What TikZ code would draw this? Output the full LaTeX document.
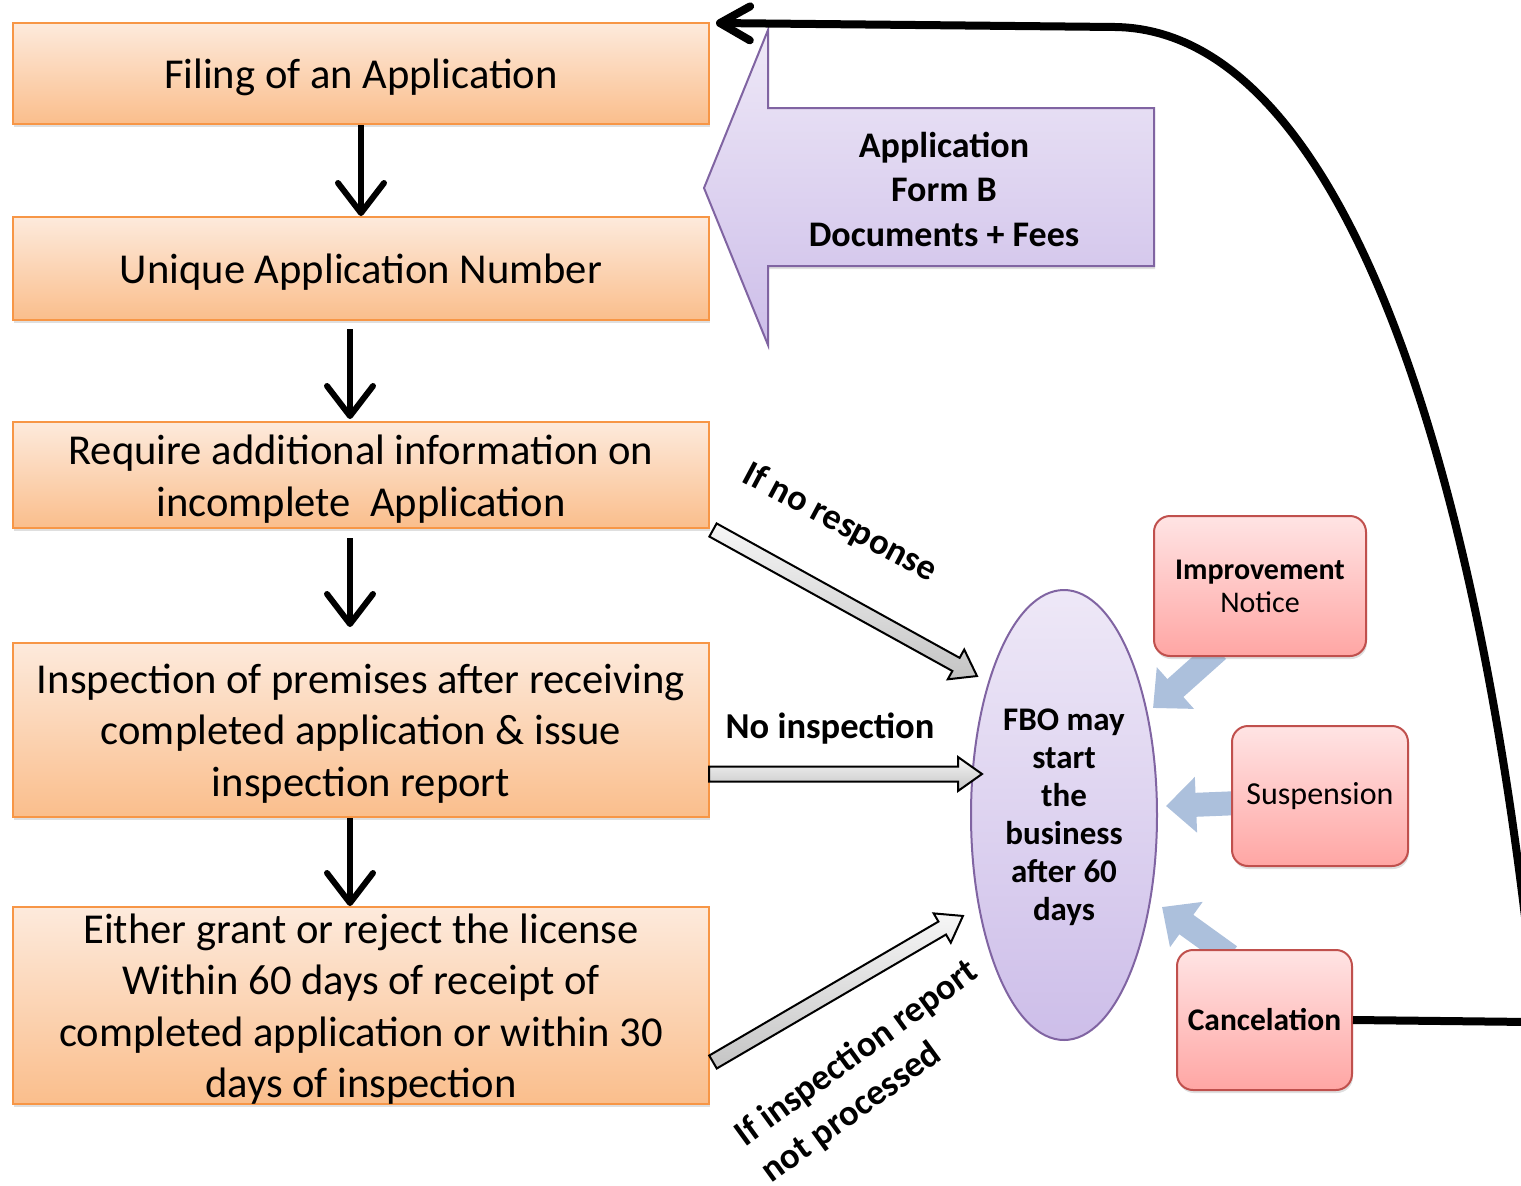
\documentclass[tikz,border=0pt]{standalone}
\usepackage{fontspec}
\setmainfont{Carlito}
\usetikzlibrary{arrows.meta,shapes.geometric,shadows}
\definecolor{orTop}{RGB}{253,234,220}
\definecolor{orBot}{RGB}{250,190,140}
\definecolor{orLine}{RGB}{247,150,70}
\definecolor{puTop}{RGB}{238,232,247}
\definecolor{puBot}{RGB}{205,190,233}
\definecolor{puLine}{RGB}{128,100,162}
\definecolor{rdTop}{RGB}{255,228,228}
\definecolor{rdBot}{RGB}{255,166,164}
\definecolor{rdLine}{RGB}{192,80,77}
\definecolor{blArrow}{RGB}{172,192,220}
\definecolor{grTop}{RGB}{246,246,246}
\definecolor{grBot}{RGB}{196,196,196}
\begin{document}
\begin{tikzpicture}[x=1pt,y=-1pt,
  softshadow/.style={drop shadow={shadow xshift=1pt,shadow yshift=-3pt,opacity=0.25}},
  obox/.style={draw=orLine,line width=2pt,top color=orTop,bottom color=orBot,
    minimum width=696pt,inner sep=0pt,softshadow},
  otext/.style={align=center,inner sep=0pt,font=\fontsize{42.6}{51.3}\selectfont},
  rbox/.style={draw=rdLine,line width=2pt,top color=rdTop,bottom color=rdBot,
    rounded corners=16pt,minimum height=140pt,inner sep=0pt,align=center,
    font=\fontsize{30}{33}\selectfont,softshadow},
  pufill/.style={draw=puLine,line width=2pt,top color=puTop,bottom color=puBot},
  downarr/.style={line width=6pt,-{Straight Barb[length=30pt,width=46pt,round]}},
  backarr/.style={line width=8pt,-{Straight Barb[length=30pt,width=34pt,round]}},
  bluearr/.style={draw=blArrow,line width=24pt,-{Triangle[length=30pt,width=54pt]}},
  hollow/.style={draw=black,line width=2pt,top color=grTop,bottom color=grBot,line join=miter},
  lbl/.style={font=\fontsize{36.5}{45}\selectfont\bfseries,inner sep=0pt},
  pics/harrow/.style={code={
    \path[hollow] (0,-7.5) -- (#1-24,-7.5) -- (#1-24,-17) -- (#1,0) -- (#1-24,17)
      -- (#1-24,7.5) -- (0,7.5) -- cycle;}}
]
\useasboundingbox (0,0) rectangle (1521,1186);

% main boxes
\node[obox,minimum height=101pt] (b1) at (361,73.5) {};
\node[obox,minimum height=103pt] (b2) at (361,268.5) {};
\node[obox,minimum height=106pt] (b3) at (361,475) {};
\node[obox,minimum height=174pt] (b4) at (361,730) {};
\node[obox,minimum height=197pt] (b5) at (361,1005.5) {};
\node[otext] (t1) at ([yshift=-4pt]b1.center) {Filing of an Application};
\node[otext] (t2) at ([yshift=-4pt]b2.center) {Unique Application Number};
\node[otext] (t3) at ([yshift=-4pt]b3.center) {Require additional information on\\incomplete\ \ Application};
\node[otext] (t4) at ([yshift=-3.5pt]b4.center) {Inspection of premises after receiving\\completed application \& issue\\inspection report};
\node[otext] (t5) at ([yshift=-3.5pt]b5.center) {Either grant or reject the license\\Within 60 days of receipt of\\completed application or within 30\\days of inspection};

% vertical arrows
\draw[downarr] (b1.south) -- (b2.north);
\draw[downarr] ([xshift=-11pt,yshift=-8pt]b2.south) -- ([xshift=-11pt,yshift=2pt]b3.north);
\draw[downarr] ([xshift=-11pt,yshift=-9pt]b3.south) -- ([xshift=-11pt,yshift=15pt]b4.north);
\draw[downarr] ([xshift=-11pt]b4.south) -- ([xshift=-11pt]b5.north);

% purple block arrow
\path[pufill,softshadow] (704,188) -- (768,30) -- (768,108) -- (1154,108) -- (1154,266)
  -- (768,266) -- (768,345) -- cycle;
\node[font=\fontsize{36}{44.5}\selectfont\bfseries,align=center] (docs) at (944,189)
  {Application\\Form B\\Documents + Fees};

% ellipse
\node[ellipse,pufill,minimum width=186pt,minimum height=450pt,inner sep=0pt] (fbo) at (1064,815) {};
\node[align=center,inner sep=0pt,font=\fontsize{33}{38}\selectfont\bfseries] (fbot)
  at ([yshift=-2pt]fbo.center) {FBO may\\start\\the\\business\\after 60\\days};

% hollow arrows
\coordinate (h1) at (713,530);
\coordinate (h2) at (709,774);
\coordinate (h3) at (713,1062);
\pic[rotate=-28.95] at (h1) {harrow=301.7};
\pic at (h2) {harrow=273};
\pic[rotate=30.3] at (h3) {harrow=289.5};

\node[lbl,rotate=-28] (tnr) at (840,523) {If no response};
\node[lbl] (tni) at (830,729) {No inspection};
\node[lbl,rotate=36,align=left] (tir) at (870,1072) {If inspection report\\not processed};

% blue arrows
\coordinate (imptail) at (1218,650);
\coordinate (imptip) at (1153,708);
\coordinate (sustail) at (1240,803);
\coordinate (sustip) at (1166,806);
\coordinate (cantail) at (1230,956);
\coordinate (cantip) at (1162,907);
\draw[bluearr] (imptail) -- (imptip);
\draw[bluearr] (sustail) -- (sustip);
\draw[bluearr] (cantail) -- (cantip);

% red boxes
\node[rbox,minimum width=212pt] (imp) at (1260,586) {\textbf{Improvement}\\Notice};
\node[rbox,minimum width=176pt,font=\fontsize{32}{36}\selectfont] (sus) at (1320,796) {Suspension};
\node[rbox,minimum width=175pt,font=\fontsize{31.5}{36}\selectfont\bfseries] (can) at (1264.5,1020) {Cancelation};

% feedback curve
\draw[backarr,line join=round] (can.east) -- (1530,1022) -- (1530,960)
  .. controls (1470,420) and (1330,30) .. (1115,27) -- ([xshift=6pt,yshift=-1pt]b1.north east);
\end{tikzpicture}
\end{document}
